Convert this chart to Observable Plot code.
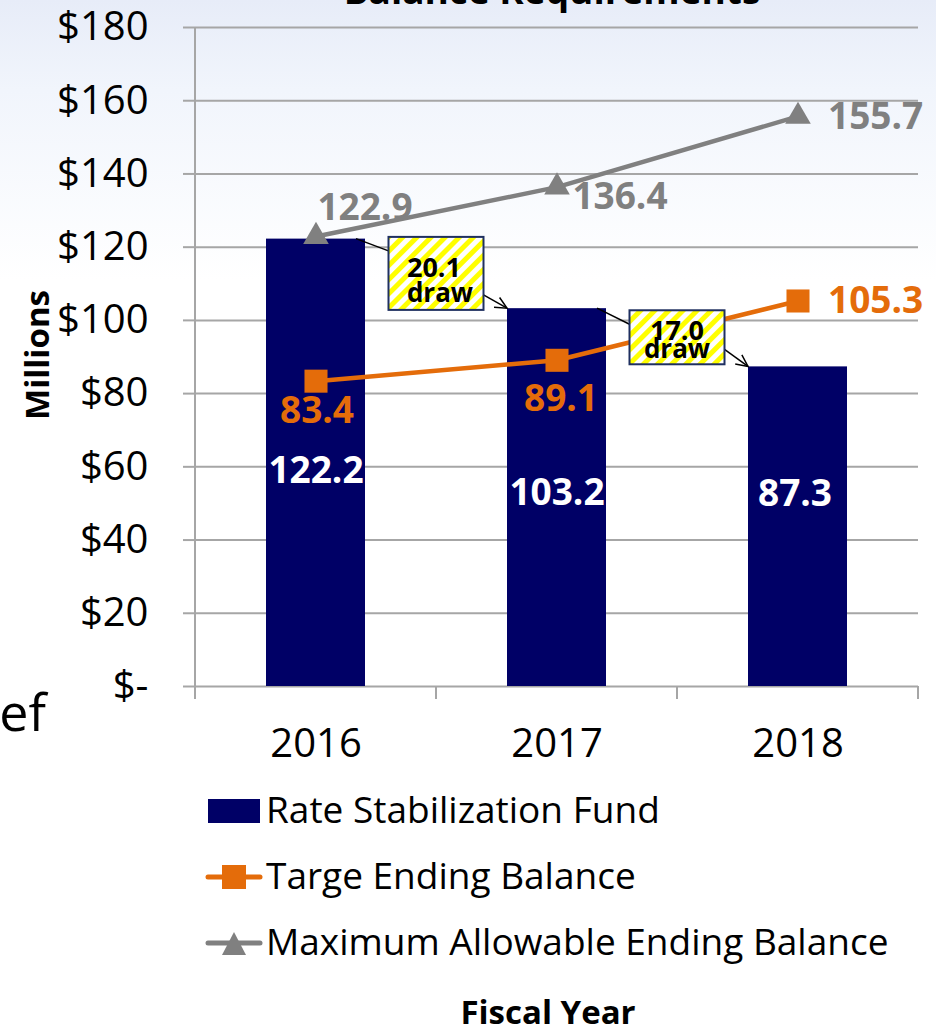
<!DOCTYPE html>
<html><head><meta charset="utf-8">
<script src="https://cdn.jsdelivr.net/npm/d3@7"></script>
<script src="https://cdn.jsdelivr.net/npm/@observablehq/plot@0.6"></script>
<style>
html,body{margin:0;padding:0;}
body{width:936px;height:1025px;overflow:hidden;position:relative;
  background:linear-gradient(#e7ecf8 0px,#f1f5fc 90px,#ffffff 280px);
  font-family:"Open Sans",sans-serif;}
#chart{position:absolute;left:0;top:0;}
#overlay{position:absolute;left:0;top:0;pointer-events:none;}
</style></head><body>
<div id="chart"></div>
<svg id="overlay" width="936" height="1025"></svg>
<script>
// ---- data ----
const years = ["2016", "2017", "2018"];
const fund = [122.2, 103.2, 87.3];          // Rate Stabilization Fund (bars)
const target = [83.4, 89.1, 105.3];         // Targe Ending Balance
const maxAllow = [122.9, 136.4, 155.7];     // Maximum Allowable Ending Balance
const yTicks = [0, 20, 40, 60, 80, 100, 120, 140, 160, 180];
const seriesNames = ["Rate Stabilization Fund", "Targe Ending Balance", "Maximum Allowable Ending Balance"];
const drawAmounts = ["20.1", "17.0"];       // draw between consecutive years
const titleText = "Balance Requirements";
const xTitle = "Fiscal Year";
const yTitle = "Millions";
const sideText = "Relief";

// ---- styles / layout ----
const NAVY = "#000066", ORANGE = "#E46C0A", GRAY = "#808080", GRID = "#a6a6a6";
const FONT = "Open Sans";
const barLabelOff = [[0, 8], [0, -4], [-3, -33]];
const targetLabelOff = [[1, 30, "middle"], [4, 39, "middle"], [30, 0, "start"]];
const maxLabelOff = [[49, -28, "middle"], [63, 10, "middle"], [30, 1, "start"]];
const drawBoxH = [73, 54];
const drawTextOff = [[[-2, 3.5], [4, 28.5]], [[0, 3], [0, 21]]];

const rows = years.map((year, i) => ({year, i, fund: fund[i], target: target[i], maxAllow: maxAllow[i]}));
const fmt = d3.format(".1f");

function frameMark(index, scales, values, dim) {
  const x = scales.x, y = scales.y;
  const bw = x.bandwidth(), step = x.step();
  const g = d3.create("svg:g").attr("stroke", GRID).attr("stroke-width", 2).attr("fill", "none");
  const y0 = y(0);
  g.append("line").attr("x1", dim.marginLeft).attr("x2", dim.marginLeft)
    .attr("y1", dim.marginTop).attr("y2", y0 + 13);
  years.forEach(yr => {
    const xb = x(yr) + bw / 2 + step / 2;
    g.append("line").attr("x1", xb).attr("x2", xb).attr("y1", y0).attr("y2", y0 + 13);
  });
  return g.node();
}

function drawMark(index, scales, values, dim) {
  const x = scales.x, y = scales.y;
  const bw = x.bandwidth();
  const g = d3.create("svg:g");
  const defs = g.append("defs");
  const pat = defs.append("pattern").attr("id", "stripes").attr("patternUnits", "userSpaceOnUse")
    .attr("width", 10).attr("height", 10).attr("patternTransform", "rotate(45)");
  pat.append("rect").attr("width", 10).attr("height", 10).attr("fill", "#ffffff");
  pat.append("rect").attr("width", 5).attr("height", 10).attr("fill", "#ffff00");
  drawAmounts.forEach((amt, k) => {
    const a = k, b = k + 1;
    const cx = (x(years[a]) + x(years[b])) / 2 + bw / 2;
    const cy = y((fund[a] + fund[b]) / 2);
    const w = 95, h = drawBoxH[k];
    const L = cx - w / 2, T = cy - h / 2, R = cx + w / 2, B = cy + h / 2;
    g.append("line").attr("x1", x(years[a]) + bw - 9).attr("y1", y(fund[a]))
      .attr("x2", L).attr("y2", T + 14).attr("stroke", "#000").attr("stroke-width", 1.5);
    const x1 = R, y1 = B - 15, x2 = x(years[b]), y2 = y(fund[b]);
    g.append("line").attr("x1", x1).attr("y1", y1).attr("x2", x2).attr("y2", y2)
      .attr("stroke", "#000").attr("stroke-width", 1.5);
    const ang = Math.atan2(y2 - y1, x2 - x1), len = 13, spread = 0.45;
    const p = (s) => [x2 - len * Math.cos(ang + s), y2 - len * Math.sin(ang + s)];
    const pa = p(spread), pb = p(-spread);
    g.append("polyline").attr("points", `${pa[0]},${pa[1]} ${x2},${y2} ${pb[0]},${pb[1]}`)
      .attr("fill", "none").attr("stroke", "#000").attr("stroke-width", 1.5);
    g.append("rect").attr("x", L).attr("y", T).attr("width", w).attr("height", h)
      .attr("fill", "url(#stripes)").attr("stroke", "#1f3060").attr("stroke-width", 2);
    const t = drawTextOff[k];
    g.append("text").attr("x", cx + t[0][0]).attr("y", cy + t[0][1]).attr("text-anchor", "middle")
      .attr("font-family", FONT).attr("font-weight", "bold").attr("font-size", 27).attr("fill", "#000").text(amt);
    g.append("text").attr("x", cx + t[1][0]).attr("y", cy + t[1][1]).attr("text-anchor", "middle")
      .attr("font-family", FONT).attr("font-weight", "bold").attr("font-size", 26).attr("fill", "#000").text("draw");
  });
  return g.node();
}

const perPointText = (key, offs, fill, size) => rows.map((r, i) => Plot.text([r], {
  x: "year", y: key, text: d => fmt(d[key]), dx: offs[i][0], dy: offs[i][1],
  textAnchor: offs[i][2] || "middle", fill, fontSize: size, fontWeight: "bold"
}));

const chart = Plot.plot({
  width: 936, height: 770,
  marginTop: 27, marginBottom: 84, marginLeft: 195, marginRight: 18,
  style: {background: "transparent", fontFamily: FONT, overflow: "visible"},
  x: {domain: years, paddingInner: 0.59, paddingOuter: 0.295, label: null},
  y: {domain: [0, 180], label: null},
  marks: [
    Plot.gridY(yTicks, {stroke: GRID, strokeOpacity: 1, strokeWidth: 2}),
    Plot.axisY(yTicks, {tickSize: 12, tickPadding: 35, fontSize: 40, stroke: GRID, strokeWidth: 2, fill: "#000",
      tickFormat: d => d === 0 ? "$-" : "$" + d, label: null}),
    Plot.axisX({tickSize: 0, tickPadding: 42, fontSize: 40, fill: "#000", label: null}),
    frameMark,
    Plot.barY(rows, {x: "year", y: "fund", fill: NAVY}),
    Plot.line(rows, {x: "year", y: "maxAllow", stroke: GRAY, strokeWidth: 4.5}),
    Plot.line(rows, {x: "year", y: "target", stroke: ORANGE, strokeWidth: 4.5}),
    Plot.dot(rows, {x: "year", y: "maxAllow", symbol: "triangle", r: 9.5, fill: GRAY, stroke: "none"}),
    Plot.dot(rows, {x: "year", y: "target", symbol: "square", r: 13, fill: ORANGE, stroke: "none"}),
    ...rows.map((r, i) => Plot.text([r], {x: "year", y: d => d.fund / 2, text: d => fmt(d.fund),
      dx: barLabelOff[i][0], dy: barLabelOff[i][1], fill: "#fff", fontSize: 37, fontWeight: "bold"})),
    ...perPointText("target", targetLabelOff, ORANGE, 37),
    ...perPointText("maxAllow", maxLabelOff, GRAY, 37),
    drawMark
  ]
});
document.getElementById("chart").appendChild(chart);

// ---- title, axis titles, side text, legend ----
const ov = d3.select("#overlay").attr("font-family", FONT);
ov.append("text").attr("x", 552).attr("y", 4).attr("text-anchor", "middle")
  .attr("font-size", 37).attr("font-weight", "bold").text(titleText);
ov.append("text").attr("transform", "translate(49,355) rotate(-90)").attr("text-anchor", "middle")
  .attr("font-size", 33).attr("font-weight", "bold").text(yTitle);
ov.append("text").attr("x", 46).attr("y", 731).attr("text-anchor", "end")
  .attr("font-size", 52).text(sideText);

const legRowY = [811, 877, 943];
seriesNames.forEach((name, i) => {
  const cy = legRowY[i];
  const g = ov.append("g");
  if (i === 0) {
    g.append("rect").attr("x", 208).attr("y", cy - 12).attr("width", 52).attr("height", 24).attr("fill", NAVY);
  } else {
    const col = i === 1 ? ORANGE : GRAY;
    g.append("line").attr("x1", 208).attr("x2", 260).attr("y1", cy).attr("y2", cy)
      .attr("stroke", col).attr("stroke-width", 5).attr("stroke-linecap", "round");
    if (i === 1) {
      g.append("rect").attr("x", 222).attr("y", cy - 12).attr("width", 24).attr("height", 24).attr("fill", col);
    } else {
      g.append("path").attr("d", `M234,${cy - 11} L246,${cy + 12} L222,${cy + 12} Z`).attr("fill", col);
    }
  }
  g.append("text").attr("x", 266).attr("y", cy + 12).attr("font-size", 37).attr("fill", "#000").text(name);
});
ov.append("text").attr("x", 548).attr("y", 1024).attr("text-anchor", "middle")
  .attr("font-size", 33).attr("font-weight", "bold").text(xTitle);
</script>
</body></html>
